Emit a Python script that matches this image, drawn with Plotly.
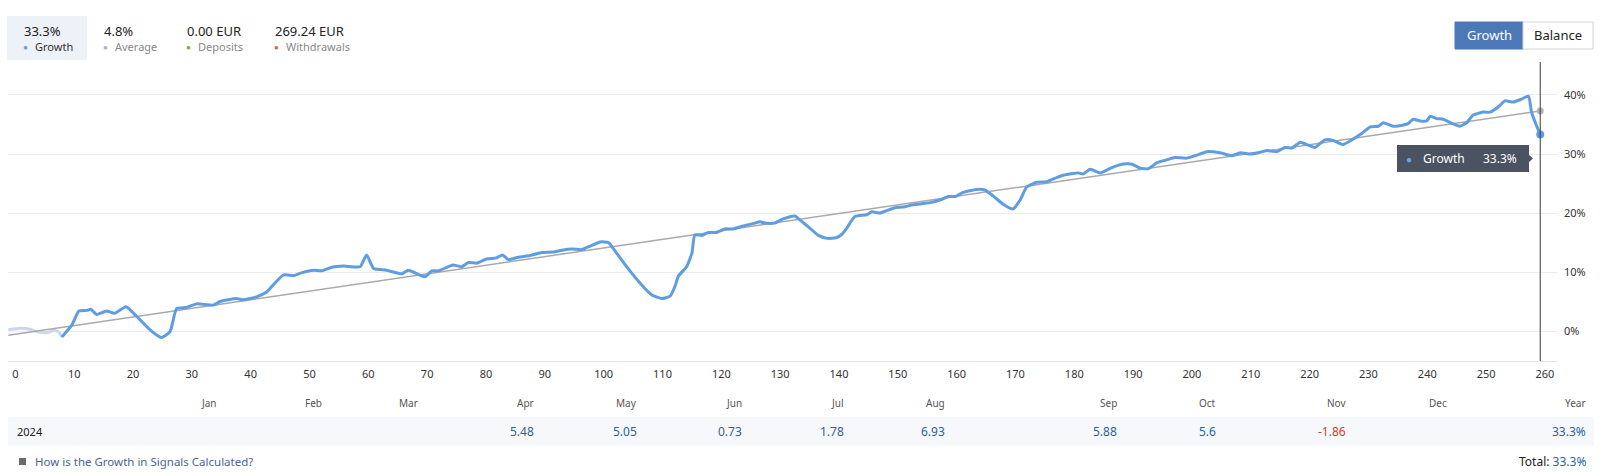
import plotly.graph_objects as go

# ---------------- data ----------------
pre_x = [-1.2, 0.8, 2.5, 3.6, 5.3, 6.5, 7.3, 7.9]
pre_y = [0.2, 0.45, 0.3, -0.1, -0.3, 0.1, -0.1, -1.0]

growth_x = [7.9, 9.6, 10.8, 12.2, 12.8, 13.8, 15.5, 16.9, 18.8, 20.6, 22.9, 24.8, 26.3, 27.4, 29.1, 30.8,
            33.7, 34.8, 37.6, 38.8, 41.0, 42.7, 44.1, 45.6, 47.3, 48.7, 50.7, 52.1, 53.8, 55.8, 58.6, 59.7,
            60.9, 63.1, 65.7, 66.8, 69.6, 70.8, 71.9, 74.4, 75.9, 77.0, 78.4, 80.1, 81.8, 82.8, 83.8, 85.5,
            87.5, 89.5, 91.5, 92.9, 94.6, 96.3, 97.7, 99.4, 100.8, 102.2, 103.9, 106.2, 108.2, 109.9, 111.3,
            112.1, 112.7, 114.1, 115.0, 115.5, 116.7, 117.8, 119.2, 120.6, 122.0, 123.7, 125.4, 126.6, 127.4,
            129.1, 130.5, 132.5, 133.4, 135.1, 136.5, 138.0, 139.5, 140.5, 141.3, 142.7, 144.7, 145.6, 147.0,
            148.1, 149.5, 150.9, 152.6, 154.3, 155.7, 157.2, 158.6, 159.8, 161.1, 163.4, 164.8, 166.2, 167.9,
            169.6, 170.8, 171.9, 173.6, 175.3, 177.0, 178.1, 179.8, 180.7, 181.5, 182.7, 184.4, 186.4, 188.3,
            189.7, 191.2, 192.6, 194.0, 195.7, 197.1, 199.1, 200.8, 202.5, 204.8, 206.8, 208.2, 209.9, 211.3,
            212.7, 214.4, 215.8, 217.0, 218.4, 219.5, 220.9, 222.6, 224.0, 225.7, 227.2, 228.9, 230.3, 231.7,
            232.5, 234.2, 235.3, 236.8, 237.6, 238.8, 239.9, 240.5, 241.6, 242.7, 244.4, 245.5, 246.7, 247.8,
            249.5, 250.7, 252.1, 253.2, 254.6, 256.0, 257.2, 257.7, 258.4, 259.2]
growth_y = [-1.0, 1.0, 3.4, 3.5, 3.7, 2.8, 3.4, 3.0, 4.1, 2.5, 0.2, -1.1, -0.1, 3.8, 4.0, 4.6,
            4.4, 5.0, 5.5, 5.3, 5.8, 6.6, 8.1, 9.5, 9.4, 9.9, 10.3, 10.2, 10.8, 11.0, 10.9, 12.9,
            10.6, 10.3, 9.7, 10.3, 9.2, 10.2, 10.2, 11.2, 10.9, 11.6, 11.5, 12.2, 12.4, 12.9, 12.1, 12.5,
            12.8, 13.3, 13.4, 13.7, 13.9, 13.8, 14.4, 15.1, 15.0, 13.2, 10.9, 8.1, 6.1, 5.5, 5.9,
            7.5, 9.3, 10.9, 13.2, 16.3, 16.2, 16.7, 16.7, 17.3, 17.3, 17.8, 18.2, 18.5, 18.3,
            18.3, 19.0, 19.5, 18.8, 17.4, 16.2, 15.7, 15.8, 16.4, 17.4, 19.4, 19.7, 20.2, 20.0,
            20.4, 20.9, 21.0, 21.4, 21.6, 21.8, 22.2, 22.8, 22.8, 23.5, 24.0, 23.9, 22.9, 21.5,
            20.7, 22.2, 24.4, 25.2, 25.3, 26.0, 26.4, 26.7, 26.8, 26.6, 27.4, 26.8, 27.7, 28.3,
            28.3, 27.6, 27.5, 28.5, 29.0, 29.4, 29.3, 29.8, 30.4, 30.2, 29.7, 30.2, 30.0, 30.2,
            30.6, 30.4, 31.1, 31.0, 32.0, 31.6, 31.1, 32.4, 32.3, 31.6, 32.4, 33.5, 34.6, 34.7,
            35.3, 34.7, 34.8, 35.2, 35.9, 35.6, 35.6, 36.4, 36.0, 35.9, 35.1, 34.7, 35.3, 36.6,
            37.1, 37.1, 38.0, 39.0, 38.8, 39.3, 39.8, 37.2, 35.2, 33.3]

avg_x = [-1.2, 259.2]
avg_y = [-0.7, 37.3]

x_ticks = list(range(0, 261, 10))
y_ticks = [0, 10, 20, 30, 40]
y_tick_labels = ["0%", "10%", "20%", "30%", "40%"]

months = ["Jan", "Feb", "Mar", "Apr", "May", "Jun", "Jul", "Aug", "Sep", "Oct", "Nov", "Dec"]
month_values = [None, None, None, 5.48, 5.05, 0.73, 1.78, 6.93, 5.88, 5.6, -1.86, None]
year_label = "2024"
year_total = "33.3%"

summary_values = ["33.3%", "4.8%", "0.00 EUR", "269.24 EUR"]
summary_labels = ["Growth", "Average", "Deposits", "Withdrawals"]

assert len(growth_x) == len(growth_y)

# ---------------- layout helpers ----------------
W, H = 1601, 475
ML, MR, MT, MB = 8, 44, 62, 114
PW, PH = W - ML - MR, H - MT - MB


def px(x):
    return (x - ML) / PW


def py(y):
    return 1 - (y - MT) / PH


BLUE = "#5f9de3"
FONT = "Noto Sans"

fig = go.Figure()
fig.add_trace(go.Scatter(x=pre_x, y=pre_y, mode="lines", line=dict(color="#ccd7ee", width=3, shape="spline", smoothing=0.5),
                         hoverinfo="skip", showlegend=False))
fig.add_trace(go.Scatter(x=avg_x, y=avg_y, mode="lines", line=dict(color="#a9a9a9", width=1.5),
                         hoverinfo="skip", showlegend=False))
fig.add_trace(go.Scatter(x=growth_x, y=growth_y, mode="lines", line=dict(color=BLUE, width=3, shape="spline", smoothing=0.5),
                         showlegend=False))
fig.add_trace(go.Scatter(x=[avg_x[-1]], y=[avg_y[-1]], mode="markers", marker=dict(color="#b3b3b3", size=7),
                         showlegend=False, hoverinfo="skip"))
fig.add_trace(go.Scatter(x=[growth_x[-1]], y=[growth_y[-1]], mode="markers", marker=dict(color=BLUE, size=8),
                         showlegend=False, hoverinfo="skip"))

shapes = []
annotations = []

# crosshair
shapes.append(dict(type="line", xref="x", yref="paper", x0=growth_x[-1], x1=growth_x[-1], y0=0, y1=1,
                   line=dict(color="#3a3a3a", width=1)))

# tooltip
shapes.append(dict(type="rect", xref="paper", yref="paper", x0=px(1397), x1=px(1529), y0=py(172), y1=py(145),
                   fillcolor="#4b5363", line=dict(width=0)))
shapes.append(dict(type="path", xref="paper", yref="paper",
                   path=f"M {px(1528)} {py(154)} L {px(1533)} {py(158.5)} L {px(1528)} {py(163)} Z",
                   fillcolor="#4b5363", line=dict(width=0)))
annotations.append(dict(xref="paper", yref="paper", x=px(1409), y=py(158.5), text="●", showarrow=False,
                        font=dict(color="#6aa6ea", size=10, family=FONT), xanchor="center", yanchor="middle"))
annotations.append(dict(xref="paper", yref="paper", x=px(1421), y=py(158.5), text="Growth", showarrow=False,
                        font=dict(color="#ffffff", size=12, family=FONT), xanchor="left", yanchor="middle"))
annotations.append(dict(xref="paper", yref="paper", x=px(1519), y=py(158.5), text=f"{growth_y[-1]:.1f}%", showarrow=False,
                        font=dict(color="#ffffff", size=12, family=FONT), xanchor="right", yanchor="middle"))

# header summary
shapes.append(dict(type="rect", xref="paper", yref="paper", x0=px(7), x1=px(87), y0=py(60), y1=py(16),
                   fillcolor="#edf1f8", line=dict(width=0), layer="below"))
sum_x = [23, 103, 186, 274]
dot_colors = [BLUE, "#b0b0b0", "#6db33f", "#e0653f"]
label_colors = ["#333333", "#888888", "#888888", "#888888"]
for sx, val, lab, dc, lc in zip(sum_x, summary_values, summary_labels, dot_colors, label_colors):
    annotations.append(dict(xref="paper", yref="paper", x=px(sx - 1), y=py(31), text=val, showarrow=False,
                            font=dict(color="#222222", size=13, family=FONT), xanchor="left", yanchor="middle"))
    annotations.append(dict(xref="paper", yref="paper", x=px(sx + 2), y=py(46), text="●", showarrow=False,
                            font=dict(color=dc, size=8, family=FONT), xanchor="center", yanchor="middle"))
    annotations.append(dict(xref="paper", yref="paper", x=px(sx + 10), y=py(46), text=lab, showarrow=False,
                            font=dict(color=lc, size=11, family=FONT), xanchor="left", yanchor="middle"))

# buttons
shapes.append(dict(type="rect", xref="paper", yref="paper", x0=px(1455), x1=px(1523), y0=py(49), y1=py(22),
                   fillcolor="#4d78b8", line=dict(color="#4d78b8", width=1)))
shapes.append(dict(type="rect", xref="paper", yref="paper", x0=px(1523), x1=px(1593), y0=py(49), y1=py(22),
                   fillcolor="#ffffff", line=dict(color="#d3d3d3", width=1)))
annotations.append(dict(xref="paper", yref="paper", x=px(1489), y=py(35.5), text="Growth", showarrow=False,
                        font=dict(color="#ffffff", size=13, family=FONT), xanchor="center", yanchor="middle"))
annotations.append(dict(xref="paper", yref="paper", x=px(1558), y=py(35.5), text="Balance", showarrow=False,
                        font=dict(color="#222222", size=13, family=FONT), xanchor="center", yanchor="middle"))

# monthly table
month_right = [219, 324, 420, 536, 639, 744, 846, 947, 1119, 1218, 1348, 1449]
shapes.append(dict(type="rect", xref="paper", yref="paper", x0=px(8), x1=px(1594), y0=py(446), y1=py(417),
                   fillcolor="#f6f8fb", line=dict(width=0), layer="below"))
for m, mr, v in zip(months, month_right, month_values):
    annotations.append(dict(xref="paper", yref="paper", x=px(mr), y=py(403), text=m, showarrow=False,
                            font=dict(color="#555555", size=10, family=FONT), xanchor="right", yanchor="middle"))
    if v is not None:
        annotations.append(dict(xref="paper", yref="paper", x=px(mr), y=py(431), text=f"{v:g}", showarrow=False,
                                font=dict(color="#2a6496" if v >= 0 else "#c0462e", size=12, family=FONT),
                                xanchor="right", yanchor="middle"))
annotations.append(dict(xref="paper", yref="paper", x=px(1588), y=py(403), text="Year", showarrow=False,
                        font=dict(color="#555555", size=10, family=FONT), xanchor="right", yanchor="middle"))
annotations.append(dict(xref="paper", yref="paper", x=px(1588), y=py(431), text=year_total, showarrow=False,
                        font=dict(color="#2a6496", size=12, family=FONT), xanchor="right", yanchor="middle"))
annotations.append(dict(xref="paper", yref="paper", x=px(15), y=py(431), text=year_label, showarrow=False,
                        font=dict(color="#222222", size=11, family=FONT), xanchor="left", yanchor="middle"))

# footer
shapes.append(dict(type="rect", xref="paper", yref="paper", x0=px(19), x1=px(26), y0=py(465), y1=py(458),
                   fillcolor="#6b6b6b", line=dict(width=0)))
annotations.append(dict(xref="paper", yref="paper", x=px(33), y=py(461), text="How is the Growth in Signals Calculated?",
                        showarrow=False, font=dict(color="#4a6591", size=11.5, family=FONT), xanchor="left", yanchor="middle"))
annotations.append(dict(xref="paper", yref="paper", x=px(1588), y=py(461),
                        text="<span style='color:#222222'>Total:</span> " + year_total,
                        showarrow=False, font=dict(color="#2a6496", size=12, family=FONT), xanchor="right", yanchor="middle"))

fig.update_layout(
    width=W, height=H,
    margin=dict(l=ML, r=MR, t=MT, b=MB),
    paper_bgcolor="#ffffff", plot_bgcolor="#ffffff",
    font=dict(family=FONT, size=11, color="#333333"),
    shapes=shapes, annotations=annotations,
    hovermode=False,
    xaxis=dict(range=[-1.25, 262.05], tickmode="array", tickvals=x_ticks, showgrid=False, zeroline=False,
               showline=True, linecolor="#e4e4e4", linewidth=1, ticks="", ticklabelstandoff=3,
               tickfont=dict(size=11, color="#333333", family=FONT), fixedrange=True),
    yaxis=dict(range=[-5.08, 45.59], tickmode="array", tickvals=y_ticks, ticktext=y_tick_labels, side="right",
               showgrid=True, gridcolor="#ececec", gridwidth=1, zeroline=False, showline=False, ticks="",
               ticklabelstandoff=6, tickfont=dict(size=11, color="#333333", family=FONT), fixedrange=True),
)

fig.write_html("out.html", config={"displayModeBar": False},
               post_script="document.body.style.margin='0';document.body.style.overflow='hidden';")
